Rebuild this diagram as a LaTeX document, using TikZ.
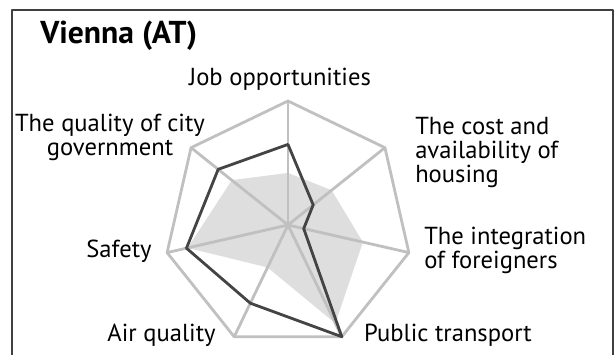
\documentclass[tikz,border=0pt]{standalone}
\usepackage{fontspec}
\setmainfont{PT Sans}

\definecolor{gridgray}{RGB}{192,192,192}
\definecolor{areagray}{RGB}{222,222,222}
\definecolor{valuegray}{RGB}{68,68,68}

\begin{document}
\begin{tikzpicture}[line join=round,font=\fontsize{17.5}{17}\selectfont,
  gridline/.style={gridgray,line width=2pt},
  valueline/.style={valuegray,line width=2pt},
  axislabel/.style={anchor=base,inner sep=0pt}]

\def\R{3.1}

% page size, everything outside is cut away
\clip (-7.2,-3.225) rectangle (8.175,5.625);

% frame, open at the bottom
\draw [darkgray,line width=1pt] (-6.9,-3.5) -- (-6.9,5.375) -- (8.125,5.375) -- (8.125,-3.5);

% title
\node [anchor=base west,inner sep=0pt,font=\fontsize{22.5}{24}\selectfont\bfseries] (title) at (-6.2,4.55) {Vienna (AT)};

% centre and corners of the heptagon
\coordinate (c) at (0,0);
\foreach \i in {0,...,6}
  \coordinate (a\i) at ({90-\i*360/7}:\R);

% grey area
\foreach \v [count=\i from 0] in {0.42,0.45,0.62,0.88,0.38,0.83,0.58}
  \coordinate (g\i) at ({90-\i*360/7}:{\v*\R});
\fill [areagray] (g0) -- (g1) -- (g2) -- (g3) -- (g4) -- (g5) -- (g6) -- cycle;

% spokes and outer heptagon
\foreach \i in {0,...,6}
  \draw [gridline] (c) -- (a\i);
\draw [gridline] (a0) -- (a1) -- (a2) -- (a3) -- (a4) -- (a5) -- (a6) -- cycle;

% Vienna
\foreach \v [count=\i from 0] in {0.65,0.26,0.13,1.0,0.70,0.84,0.72}
  \coordinate (v\i) at ({90-\i*360/7}:{\v*\R});
\draw [valueline] (v0) -- (v1) -- (v2) -- (v3) -- (v4) -- (v5) -- (v6) -- cycle;

% labels (base = last line)
\node [axislabel] (job) at (-0.2,3.5) {Job opportunities};
\node [axislabel,align=left,anchor=base west] (housing) at (3.175,1.075) {The cost and\\availability of\\housing};
\node [axislabel,align=left,anchor=base west] (foreigners) at (3.4,-1.075) {The integration\\of foreigners};
\node [axislabel] (transport) at (4.0,-2.9) {Public transport};
\node [axislabel] (air) at (-3.1625,-2.9) {Air quality};
\node [axislabel] (safety) at (-4.225,-0.8) {Safety};
\node [axislabel,align=center] (government) at (-4.45,1.75) {The quality of city\\government};

\end{tikzpicture}
\end{document}
